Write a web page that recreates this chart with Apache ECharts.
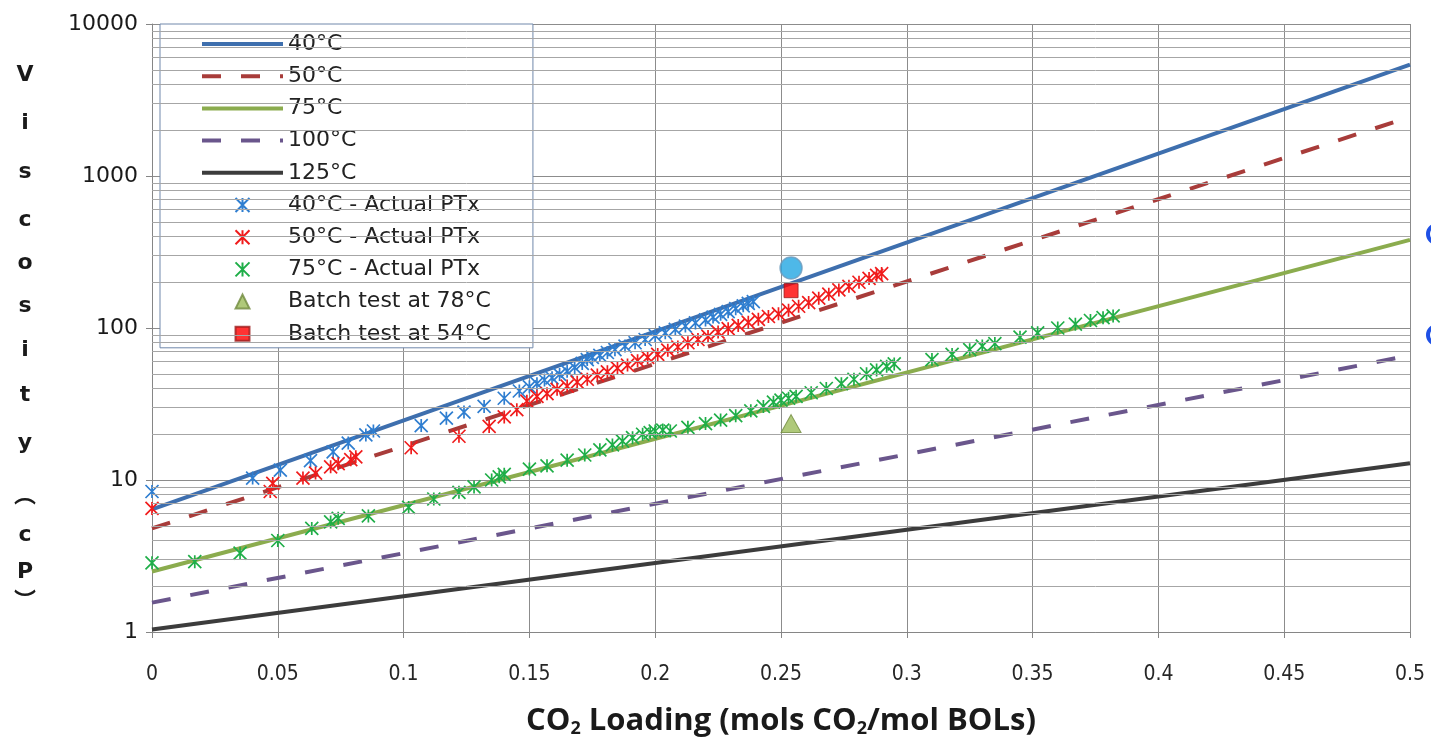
<!DOCTYPE html>
<html>
<head>
<meta charset="utf-8">
<script src="https://cdn.jsdelivr.net/npm/echarts@6/dist/echarts.min.js"></script>
<style>
html,body{margin:0;padding:0;background:#fff;}
#chart{width:1431px;height:743px;}
</style>
</head>
<body>
<div id="chart"></div>
<script>
// ---- data ----
const xTickLabels = ['0','0.05','0.1','0.15','0.2','0.25','0.3','0.35','0.4','0.45','0.5'];
const yTickLabels = ['1','10','100','1000','10000'];
const minorGridValues = [2,3,4,5,6,7,8,9,20,30,40,50,60,70,80,90,200,300,400,500,600,700,800,900,2000,3000,4000,5000,6000,7000,8000,9000];

const lineNames = ['40°C','50°C','75°C','100°C','125°C'];
const line40 = [[0, 6.4], [0.5, 5400]];
const line50 = [[0, 4.8], [0.5, 2450]];
const line75 = [[0, 2.5], [0.5, 380]];
const line100 = [[0, 1.56], [0.5, 66]];
const line125 = [[0, 1.04], [0.5, 12.9]];

const pts40 = [[0,8.4],[0.040,10.3],[0.051,11.6],[0.063,13.4],[0.072,15.3],[0.078,17.5],[0.085,19.8],[0.088,21.0],
  [0.107,22.8],[0.117,25.5],[0.124,28.0],[0.132,30.5],[0.140,34.5],[0.146,38.5],[0.150,41.0],[0.153,43.0],
  [0.156,45.5],[0.159,47.0],[0.162,49.5],[0.165,52.0],[0.168,55.0],[0.171,58.5],[0.173,62.0],[0.175,64.0],
  [0.178,66.0],[0.181,69.0],[0.184,72.0],[0.188,76.0],[0.192,80.0],[0.196,84.0],[0.200,89.0],[0.204,93.0],
  [0.208,98.0],[0.212,103],[0.216,108],[0.220,113],[0.223,118],[0.226,123],[0.229,128],[0.232,134],
  [0.235,140],[0.237,145],[0.239,149]];
const pts50 = [[0,6.5],[0.047,8.4],[0.048,9.5],[0.060,10.3],[0.065,11.1],[0.071,12.2],[0.074,12.8],[0.079,13.6],
  [0.081,14.2],[0.103,16.3],[0.122,19.4],[0.134,22.5],[0.140,26.0],[0.145,29.0],[0.149,33.0],[0.153,35.5],
  [0.157,37.0],[0.161,39.5],[0.165,41.5],[0.169,44.0],[0.173,46.0],[0.177,49.0],[0.181,51.5],[0.185,54.5],
  [0.189,57.0],[0.193,61.0],[0.197,64.0],[0.201,67.0],[0.205,71.5],[0.209,75.0],[0.213,80.0],[0.217,84.0],
  [0.221,88.0],[0.225,94.0],[0.229,99.0],[0.233,104],[0.237,109],[0.241,114],[0.245,119],[0.249,124],
  [0.253,131],[0.257,139],[0.261,147],[0.265,157],[0.269,167],[0.273,178],[0.277,188],[0.281,200],
  [0.285,212],[0.288,222],[0.290,228]];
const pts75 = [[0,2.85],[0.017,2.9],[0.035,3.3],[0.050,4.0],[0.0635,4.8],[0.071,5.3],[0.074,5.6],[0.086,5.8],
  [0.102,6.6],[0.112,7.5],[0.122,8.3],[0.128,9.0],[0.135,10.0],[0.138,10.5],[0.140,10.9],[0.150,11.8],
  [0.157,12.4],[0.165,13.5],[0.172,14.6],[0.178,15.8],[0.183,17.0],[0.187,18.0],[0.191,19.0],[0.195,20.0],
  [0.198,20.5],[0.200,21.0],[0.203,21.3],[0.206,21.0],[0.213,22.2],[0.220,23.5],[0.226,24.8],[0.232,26.5],
  [0.238,28.5],[0.243,30.5],[0.247,32.5],[0.250,33.5],[0.253,34.5],[0.256,35.5],[0.262,37.5],[0.268,40.0],
  [0.274,43.0],[0.279,46.0],[0.284,50.0],[0.288,53.0],[0.292,56.0],[0.295,58.0],[0.310,62.0],[0.318,67.0],
  [0.325,72.0],[0.330,76.0],[0.335,79.0],[0.345,87.0],[0.352,93.0],[0.360,100],[0.367,106],[0.373,112],
  [0.378,117],[0.382,120]];
const batch78 = [[0.254, 23.5]];
const batch54 = [[0.254, 176]];
const extraPoint = [[0.254, 248]];
const scatterNames = ['40°C - Actual PTx','50°C - Actual PTx','75°C - Actual PTx','Batch test at 78°C','Batch test at 54°C'];

// ---- chart ----
const chart = echarts.init(document.getElementById('chart'));
const asterisk = 'path://M5,0L5,10M0,0L10,10M0,10L10,0';
const dash = [19, 20];
const solidIcon = 'path://M0,0H81V4H0Z';
const dashIcon = 'path://M0,0H19V4H0ZM39,0H58V4H39ZM78,0H81V4H78Z';
const triIcon = 'path://M0,10L5,0L10,10Z';
const sqIcon = 'path://M0,0H10V10H0Z';

function lineSeries(name, data, color, dashed) {
  return {name, type:'line', data, symbol:'none', silent:true, z:3,
    lineStyle:{color, width:4, type: dashed ? dash : 'solid'}, itemStyle:{color}};
}
function starSeries(name, data, color) {
  return {name, type:'scatter', data, symbol:asterisk, symbolSize:13, z:4,
    itemStyle:{color:'rgba(0,0,0,0)', borderColor:color, borderWidth:1.7, opacity:1}};
}

const yTitle = ['V','i','s','c','o','s','i','t','y','︵','c','P','︶'];
const yTitleY = [75,123,172,220,263,306,350,395,443,494,535,572,600];

chart.setOption({
  animation:false,
  backgroundColor:'#ffffff',
  grid:{left:152, right:21, top:24, bottom:111, containLabel:false, outerBoundsMode:'none'},
  xAxis:{type:'value', min:0, max:0.5, interval:0.05,
    axisLine:{lineStyle:{color:'#868686', width:1}},
    axisTick:{show:true, length:6, lineStyle:{color:'#868686'}},
    axisLabel:{margin:32, fontFamily:'DejaVu Sans Condensed, sans-serif', fontSize:21, color:'#262626',
      formatter:(v,i)=>xTickLabels[i] !== undefined ? xTickLabels[i] : String(v)},
    splitLine:{show:true, lineStyle:{color:'#8c8c8c', width:1}},
    name:'{a|CO}{s|2}{a| Loading (mols CO}{s|2}{a|/mol BOLs)}',
    nameLocation:'middle', nameGap:70,
    nameTextStyle:{rich:{
      a:{fontFamily:'Open Sans, sans-serif', fontWeight:'bold', fontSize:31, color:'#1a1a1a', lineHeight:38},
      s:{fontFamily:'Open Sans, sans-serif', fontWeight:'bold', fontSize:18, color:'#1a1a1a', lineHeight:38, padding:[16,0,0,0]}
    }}
  },
  yAxis:{type:'log', logBase:10, min:1, max:10000, splitNumber:4,
    axisLine:{show:true, lineStyle:{color:'#868686', width:1}},
    axisTick:{show:true, length:6, lineStyle:{color:'#868686'}},
    axisLabel:{margin:14, fontFamily:'DejaVu Sans, sans-serif', fontSize:22, color:'#1a1a1a',
      formatter:(v)=>{const i = Math.round(Math.log10(v)); return yTickLabels[i] !== undefined ? yTickLabels[i] : String(v);}},
    splitLine:{show:true, lineStyle:{color:'#8c8c8c', width:1}},
    minorTick:{show:false}, minorSplitLine:{show:false}
  },
  legend:{
    data: [
      {name:'40°C', icon:solidIcon}, {name:'50°C', icon:dashIcon}, {name:'75°C', icon:solidIcon},
      {name:'100°C', icon:dashIcon}, {name:'125°C', icon:solidIcon},
      {name:scatterNames[0]}, {name:scatterNames[1]}, {name:scatterNames[2]},
      {name:scatterNames[3], icon:triIcon}, {name:scatterNames[4], icon:sqIcon}
    ],
    orient:'vertical', left:160, top:24,
    itemWidth:81, itemHeight:14, itemGap:10.2,
    symbolKeepAspect:true,
    padding:[9, 42, 3, 42],
    backgroundColor:'#ffffff', borderColor:'#7088ab', borderWidth:1,
    textStyle:{fontFamily:'DejaVu Sans, sans-serif', fontSize:22, color:'#222222'},
    selectedMode:false
  },
  graphic: yTitle.map((ch, i) => ({
    type:'text', x:25, y:yTitleY[i], silent:true,
    style:{text:ch, fontFamily: (ch==='︵'||ch==='︶') ? 'Noto Sans CJK SC, sans-serif' : 'DejaVu Sans, sans-serif',
      fontWeight:'bold', fontSize:22, fill:'#1a1a1a', textAlign:'center', textVerticalAlign:'middle'}
  })).concat([
    {type:'arc', shape:{cx:1437, cy:234, r:9, startAngle:0, endAngle:Math.PI*2}, silent:true,
      style:{stroke:'#1e50e6', lineWidth:4, fill:null}},
    {type:'arc', shape:{cx:1437, cy:335, r:9, startAngle:0, endAngle:Math.PI*2}, silent:true,
      style:{stroke:'#1e50e6', lineWidth:4, fill:null}}
  ]),
  series:[
    {name:'minor-grid', type:'line', data:[], symbol:'none', silent:true, z:1,
      markLine:{silent:true, symbol:['none','none'], label:{show:false}, animation:false,
        lineStyle:{color:'#a6a6a6', width:1, type:'solid'},
        emphasis:{disabled:true},
        data:minorGridValues.map(v=>({yAxis:v}))}},
    lineSeries('40°C', line40, '#3e6fae', false),
    lineSeries('50°C', line50, '#a83c3a', true),
    lineSeries('75°C', line75, '#8bac4e', false),
    lineSeries('100°C', line100, '#6a568c', true),
    lineSeries('125°C', line125, '#3c3c3c', false),
    starSeries('40°C - Actual PTx', pts40, '#2f7ed0'),
    starSeries('50°C - Actual PTx', pts50, '#f01c1c'),
    starSeries('75°C - Actual PTx', pts75, '#1fae48'),
    {name:'Batch test at 78°C', type:'scatter', data:batch78, symbol:'triangle', symbolSize:[20,18], z:5,
      itemStyle:{color:'#9bbb59', borderColor:'#71893f', borderWidth:1}},
    {name:'Batch test at 54°C', type:'scatter', data:batch54, symbol:'rect', symbolSize:14, z:5,
      itemStyle:{color:'#ff0000', borderColor:'#9c1c1c', borderWidth:1}},
    {name:'extra', type:'scatter', data:extraPoint, symbol:'circle', symbolSize:22, z:5,
      itemStyle:{color:'#22a6e2', borderColor:'#6e9bbd', borderWidth:1.5}}
  ]
});
</script>
</body>
</html>
